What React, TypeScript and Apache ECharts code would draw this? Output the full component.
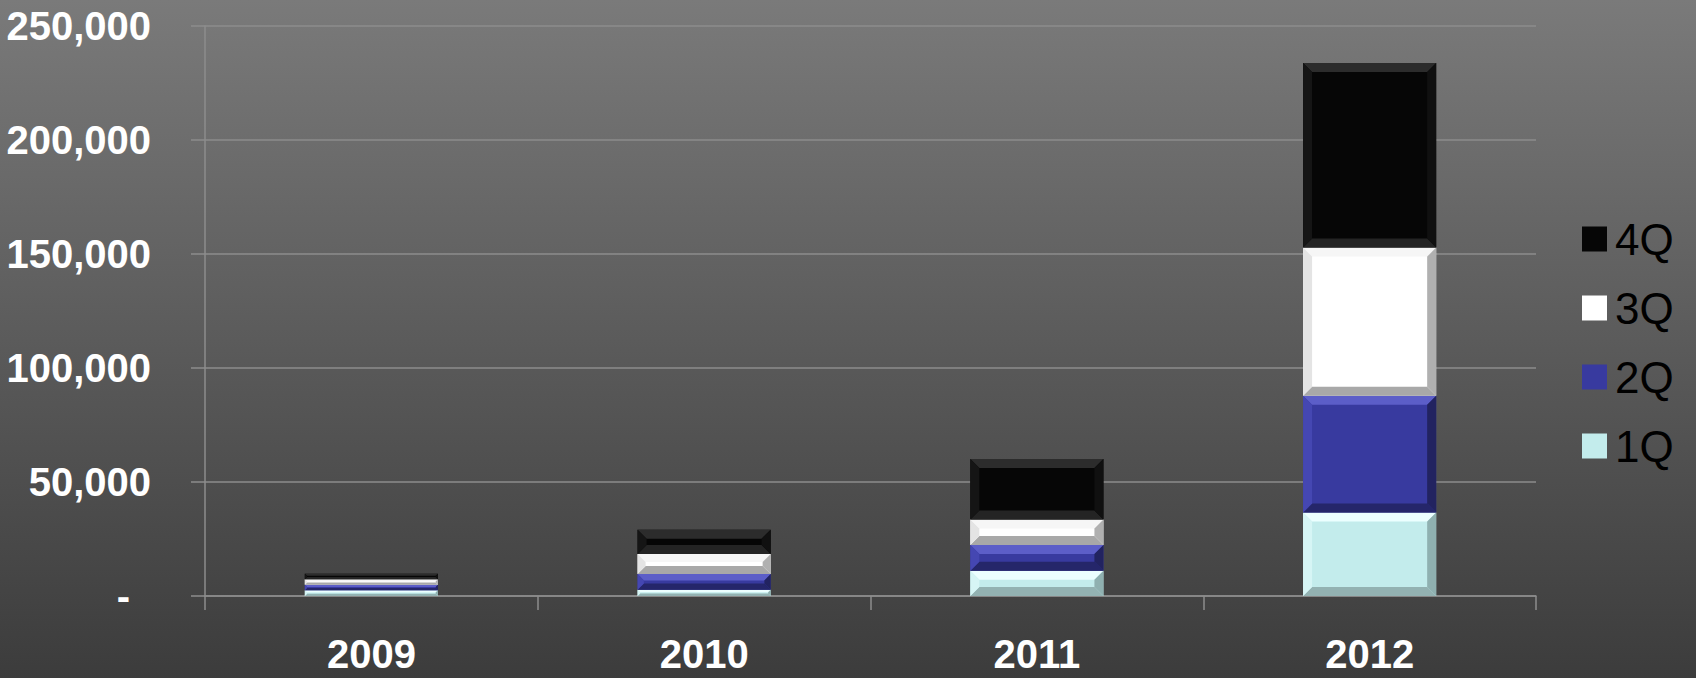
import React, { useEffect, useRef } from "react";
import * as echarts from "echarts";

const categories = ["2009", "2010", "2011", "2012"];
const q1 = [2500, 2700, 11100, 36600];
const q2 = [2400, 6900, 11300, 51200];
const q3 = [2500, 8800, 11200, 65000];
const q4 = [2400, 10700, 26500, 81000];
const seriesNames = ["1Q", "2Q", "3Q", "4Q"];

const palette = [
  { base: "#c3ecec", top: "#ecffff", left: "#d6f5f5", right: "#8fb0b0", bottom: "#93b2b2" },
  { base: "#383a9f", top: "#5c5ec8", left: "#4547b2", right: "#222360", bottom: "#25266a" },
  { base: "#ffffff", top: "#f6f6f6", left: "#e4e4e4", right: "#b0b0b0", bottom: "#a8a8a8" },
  { base: "#060606", top: "#2c2c2c", left: "#151515", right: "#101010", bottom: "#242424" },
];

const LABEL_FONT = '"Liberation Sans", Arial, sans-serif';

export default function App() {
  const ref = useRef<HTMLDivElement>(null);
  useEffect(() => {
    document.body.style.margin = "0";
    const chart = echarts.init(ref.current!, undefined, { renderer: "svg" });
    const all = [q1, q2, q3, q4];
    const cum = categories.map(() => 0);
    const series = all.map((vals, si) => {
      const data = vals.map((v, ci) => {
        const base = cum[ci];
        cum[ci] += v;
        return [ci, base, base + v];
      });
      const pal = palette[si];
      return {
        type: "custom",
        name: seriesNames[si],
        itemStyle: { color: pal.base },
        encode: { x: 0, y: [1, 2] },
        data,
        renderItem: (params: any, api: any) => {
          const ci = api.value(0);
          const p0 = api.coord([ci, api.value(1)]);
          const p1 = api.coord([ci, api.value(2)]);
          const bw = api.size([1, 0])[0] * 0.4;
          const x0 = p0[0] - bw / 2;
          const x1 = p0[0] + bw / 2;
          const y0 = p1[1];
          const y1 = p0[1];
          const h = y1 - y0;
          const w = x1 - x0;
          const b = Math.min(9, h / 2.5, w / 2);
          return {
            type: "group",
            children: [
              { type: "rect", shape: { x: x0, y: y0, width: w, height: h }, style: { fill: pal.base } },
              { type: "polygon", shape: { points: [[x0, y0], [x1, y0], [x1 - b, y0 + b], [x0 + b, y0 + b]] }, style: { fill: pal.top } },
              { type: "polygon", shape: { points: [[x0, y1], [x1, y1], [x1 - b, y1 - b], [x0 + b, y1 - b]] }, style: { fill: pal.bottom } },
              { type: "polygon", shape: { points: [[x0, y0], [x0 + b, y0 + b], [x0 + b, y1 - b], [x0, y1]] }, style: { fill: pal.left } },
              { type: "polygon", shape: { points: [[x1, y0], [x1 - b, y0 + b], [x1 - b, y1 - b], [x1, y1]] }, style: { fill: pal.right } },
            ],
          };
        },
      };
    });

    chart.setOption({
      animation: false,
      backgroundColor: {
        type: "linear", x: 0, y: 0, x2: 0, y2: 1,
        colorStops: [
          { offset: 0, color: "#7a7a7a" },
          { offset: 1, color: "#3c3c3c" },
        ],
      },
      grid: { left: 205, right: 160, top: 26, bottom: 82, containLabel: false, outerBoundsMode: "none" },
      legend: {
        orient: "vertical",
        left: 1582,
        top: 217,
        padding: 0,
        itemWidth: 25,
        itemHeight: 25,
        itemGap: 25,
        icon: "rect",
        data: ["4Q", "3Q", "2Q", "1Q"],
        textStyle: {
          color: "#000000",
          fontSize: 44,
          lineHeight: 40,
          fontFamily: LABEL_FONT,
          padding: [0, 0, 0, 3],
        },
      },
      xAxis: {
        type: "category",
        data: categories,
        boundaryGap: true,
        axisLine: { show: true, lineStyle: { color: "#8c8c8c", width: 1.5 } },
        axisTick: { show: true, length: 14, lineStyle: { color: "#8c8c8c", width: 1.5 } },
        axisLabel: {
          color: "#ffffff",
          fontSize: 40,
          fontWeight: "bold",
          fontFamily: LABEL_FONT,
          margin: 38,
        },
        splitLine: { show: false },
      },
      yAxis: {
        type: "value",
        min: 0,
        max: 250000,
        interval: 50000,
        axisLine: { show: true, lineStyle: { color: "#8c8c8c", width: 1.5 } },
        axisTick: { show: true, length: 14, lineStyle: { color: "#8c8c8c", width: 1.5 } },
        splitLine: { show: true, lineStyle: { color: "#8c8c8c", width: 1.5 } },
        axisLabel: {
          color: "#ffffff",
          fontSize: 40,
          fontWeight: "bold",
          fontFamily: LABEL_FONT,
          margin: 54,
          formatter: (v: number) => (v === 0 ? "{z|-}" : v.toLocaleString("en-US")),
          rich: {
            z: {
              color: "#ffffff",
              fontSize: 40,
              fontWeight: "bold",
              fontFamily: LABEL_FONT,
              padding: [0, 21, 0, 0],
            },
          },
        },
      },
      series,
    });
    return () => chart.dispose();
  }, []);
  return <div ref={ref} style={{ position: "fixed", left: 0, top: 0, width: 1696, height: 678 }} />;
}
